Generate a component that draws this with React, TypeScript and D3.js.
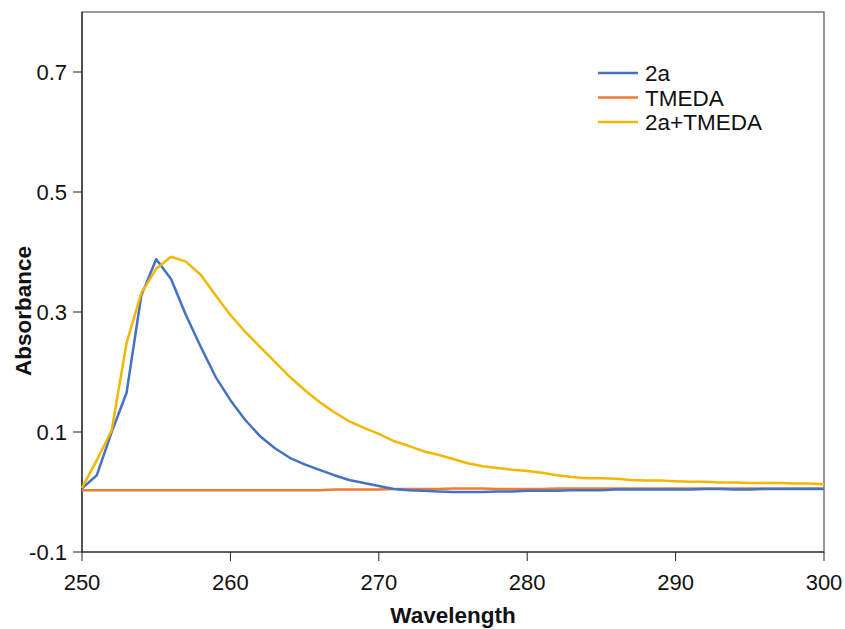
import React from "react";
import * as d3 from "d3";

const wavelengths = d3.range(250, 301);
const series2a = [
  0.006, 0.028, 0.1, 0.165, 0.328, 0.388, 0.355, 0.295, 0.242, 0.192,
  0.153, 0.12, 0.093, 0.073, 0.057, 0.046, 0.037, 0.028, 0.02, 0.015,
  0.01, 0.005, 0.003, 0.002, 0.001, 0.0, 0.0, 0.0, 0.001, 0.001,
  0.002, 0.002, 0.002, 0.003, 0.003, 0.003, 0.004, 0.004, 0.004, 0.004,
  0.004, 0.004, 0.005, 0.005, 0.004, 0.004, 0.005, 0.005, 0.005, 0.005, 0.005,
];
const seriesTMEDA = [
  0.003, 0.003, 0.003, 0.003, 0.003, 0.003, 0.003, 0.003, 0.003, 0.003,
  0.003, 0.003, 0.003, 0.003, 0.003, 0.003, 0.003, 0.004, 0.004, 0.004,
  0.004, 0.005, 0.005, 0.005, 0.005, 0.006, 0.006, 0.006, 0.005, 0.005,
  0.005, 0.005, 0.006, 0.006, 0.006, 0.006, 0.006, 0.006, 0.006, 0.006,
  0.006, 0.006, 0.006, 0.006, 0.006, 0.006, 0.006, 0.006, 0.006, 0.006, 0.006,
];
const series2aTMEDA = [
  0.007, 0.053, 0.103, 0.248, 0.332, 0.372, 0.392, 0.384, 0.362, 0.328,
  0.295, 0.267, 0.242, 0.217, 0.192, 0.17, 0.15, 0.133, 0.118, 0.107,
  0.097, 0.085, 0.077, 0.068, 0.062, 0.055, 0.048, 0.043, 0.04, 0.037,
  0.035, 0.032, 0.028, 0.025, 0.023, 0.023, 0.022, 0.02, 0.019, 0.019,
  0.018, 0.017, 0.017, 0.016, 0.016, 0.015, 0.015, 0.015, 0.014, 0.014, 0.013,
];
const yTicks = [-0.1, 0.1, 0.3, 0.5, 0.7];
const xTicks = [250, 260, 270, 280, 290, 300];
const seriesNames = ["2a", "TMEDA", "2a+TMEDA"];
const colors = ["#4472C4", "#ED7D31", "#F2B800"];

export default function App() {
  const W = 845, H = 629;
  const left = 82, right = 824, top = 12, bottom = 552;
  const x = d3.scaleLinear().domain([250, 300]).range([left, right]);
  const y = d3.scaleLinear().domain([-0.1, 0.8]).range([bottom, top]);
  const all = [series2a, seriesTMEDA, series2aTMEDA];
  const line = d3
    .line<number>()
    .x((_, i) => x(wavelengths[i]))
    .y((d) => y(d));
  const font = "'Liberation Sans', Arial, sans-serif";
  return (
    <svg width={W} height={H} style={{ position: "absolute", left: 0, top: 0 }}>
      <rect x={0} y={0} width={W} height={H} fill="#fff" />
      <rect x={left} y={top} width={right - left} height={bottom - top} fill="none" stroke="#555" strokeWidth={1.2} />
      <line x1={left} x2={left} y1={top} y2={bottom} stroke="#222" strokeWidth={1.2} />
      <line x1={left} x2={right} y1={bottom} y2={bottom} stroke="#222" strokeWidth={1.2} />
      {yTicks.map((t) => (
        <g key={t}>
          <line x1={left - 9} x2={left} y1={y(t)} y2={y(t)} stroke="#222" />
          <text x={left - 15} y={y(t)} dy="0.36em" textAnchor="end" fontSize={22} fontFamily={font} fill="#111">
            {t.toFixed(1)}
          </text>
        </g>
      ))}
      {xTicks.map((t) => (
        <g key={t}>
          <line x1={x(t)} x2={x(t)} y1={bottom} y2={bottom + 9} stroke="#222" />
          <text x={x(t)} y={bottom + 38} textAnchor="middle" fontSize={22} fontFamily={font} fill="#111">
            {t}
          </text>
        </g>
      ))}
      <text x={453} y={623} textAnchor="middle" fontSize={22.5} fontWeight="bold" fontFamily={font} fill="#111">
        Wavelength
      </text>
      <text transform={`translate(31, 311) rotate(-90)`} textAnchor="middle" fontSize={22.5} fontWeight="bold" fontFamily={font} fill="#111">
        Absorbance
      </text>
      {[1, 0, 2].map((k) => (
        <path key={k} d={line(all[k]) || ""} fill="none" stroke={colors[k]} strokeWidth={2.5} strokeLinejoin="round" />
      ))}
      {seriesNames.map((n, i) => (
        <g key={n} transform={`translate(598, ${73 + i * 24.5})`}>
          <line x1={0} x2={40} y1={0} y2={0} stroke={colors[i]} strokeWidth={2.5} />
          <text x={47} y={0} dy="0.36em" fontSize={22.5} fontFamily={font} fill="#111">
            {n}
          </text>
        </g>
      ))}
    </svg>
  );
}
